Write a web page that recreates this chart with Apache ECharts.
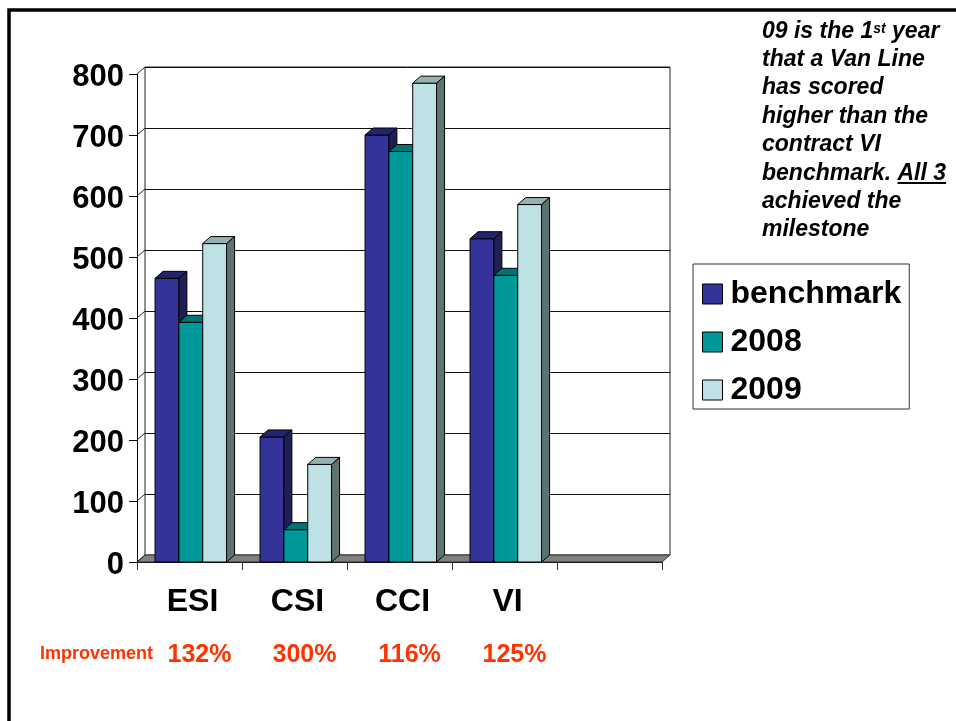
<!DOCTYPE html>
<html>
<head>
<meta charset="utf-8">
<script src="https://cdn.jsdelivr.net/npm/echarts@6/dist/echarts.min.js"></script>
<style>
  html, body { margin: 0; padding: 0; background: #fff; }
  #main { width: 956px; height: 721px; }
</style>
</head>
<body>
<div id="main"></div>
<script>
// chart data
var categories = ['ESI', 'CSI', 'CCI', 'VI', ''];
var seriesNames = ['benchmark', '2008', '2009'];
var benchmark = [465, 205, 700, 530];
var y2008 = [393, 53, 673, 470];
var y2009 = [522, 160, 785, 586];
var tickValues = [0, 100, 200, 300, 400, 500, 600, 700, 800];
var improvement = ['132%', '300%', '116%', '125%'];

var FONT = 'Liberation Sans, Arial, sans-serif';
var DX = 8, DY = 7; // depth of the fake 3d
var colors = [
  { front: '#333399', top: '#232370', side: '#1f1f55' },
  { front: '#009999', top: '#007373', side: '#006666' },
  { front: '#bde1e4', top: '#98b0b2', side: '#5e7272' }
];

var myChart = echarts.init(document.getElementById('main'));

function barRenderer(idx) {
  return function (params, api) {
    var cat = api.value(0);
    var val = api.value(1);
    var p0 = api.coord([cat, 0]);
    var p1 = api.coord([cat, val]);
    var band = api.size([1, 0])[0];
    var w = band * 0.227;
    var x0 = p0[0] - band / 2 + band * (0.172 + idx * 0.227);
    var yb = p0[1], yt = p1[1];
    var c = colors[idx];
    var st = { stroke: '#000', lineWidth: 1 };
    return {
      type: 'group',
      children: [
        { type: 'rect', shape: { x: x0, y: yt, width: w, height: yb - yt },
          style: Object.assign({ fill: c.front }, st) },
        { type: 'polygon', shape: { points: [[x0, yt], [x0 + w, yt], [x0 + w + DX, yt - DY], [x0 + DX, yt - DY]] },
          style: Object.assign({ fill: c.top }, st) },
        { type: 'polygon', shape: { points: [[x0 + w, yt], [x0 + w + DX, yt - DY], [x0 + w + DX, yb - DY], [x0 + w, yb]] },
          style: Object.assign({ fill: c.side }, st) }
      ]
    };
  };
}

function toData(arr) {
  return arr.map(function (v, i) { return [i, v]; });
}

var valueSets = [benchmark, y2008, y2009];
var barSeries = valueSets.map(function (arr, i) {
  return {
    name: seriesNames[i],
    type: 'custom',
    xAxisIndex: 0,
    yAxisIndex: 0,
    itemStyle: { color: colors[i].front },
    renderItem: barRenderer(i),
    data: toData(arr),
    z: 5
  };
});

var NOTE_SIZE = 23;
var noteFont = { fontSize: NOTE_SIZE, fontWeight: 'bold', fontStyle: 'italic', fontFamily: FONT, lineHeight: 28.4 };

var option = {
  animation: false,
  backgroundColor: '#fff',
  grid: [
    { left: 137, top: 74, right: 294, bottom: 159 },
    { left: 145, top: 67, right: 286, bottom: 166, show: true,
      backgroundColor: '#fff', borderColor: '#222', borderWidth: 1 }
  ],
  xAxis: [
    { type: 'category', gridIndex: 0, data: categories, boundaryGap: true,
      axisLine: { show: true, lineStyle: { color: '#000', width: 1 } },
      axisTick: { show: true, length: 8, lineStyle: { color: '#333' } },
      axisLabel: { margin: 24, fontSize: 32, fontWeight: 'bold', color: '#000',
        fontFamily: FONT, padding: [0, 0, 0, 6] } },
    { type: 'category', gridIndex: 1, data: categories, show: false }
  ],
  yAxis: [
    { type: 'value', gridIndex: 0, min: 0, max: 800, interval: 100,
      axisLine: { show: true, lineStyle: { color: '#000', width: 1 } },
      axisTick: { show: true, length: 8, lineStyle: { color: '#000' } },
      splitLine: { show: false },
      axisLabel: { margin: 13, color: '#000', formatter: '{v|{value}}',
        rich: { v: { fontSize: 31, fontWeight: 'bold', fontFamily: FONT, padding: [7, 0, 0, 0] } } } },
    { type: 'value', gridIndex: 1, min: 0, max: 800, interval: 100,
      axisLine: { show: false }, axisTick: { show: false }, axisLabel: { show: false },
      splitLine: { show: true, lineStyle: { color: '#111', width: 1 } } }
  ],
  legend: {
    orient: 'vertical',
    left: 693,
    top: 264,
    data: seriesNames,
    padding: [14, 8, 3, 9],
    itemWidth: 20,
    itemHeight: 20,
    itemGap: 16,
    icon: 'rect',
    itemStyle: { borderColor: '#000', borderWidth: 1 },
    borderColor: '#333',
    borderWidth: 1,
    selectedMode: false,
    textStyle: { fontSize: 32, fontWeight: 'bold', color: '#000', fontFamily: FONT, padding: [0, 0, 0, 3] }
  },
  series: [
    {
      // floor
      type: 'custom',
      xAxisIndex: 0, yAxisIndex: 0,
      data: [[0, 0]],
      silent: true,
      z: 3,
      renderItem: function (params, api) {
        var cs = params.coordSys;
        var yb = cs.y + cs.height;
        return { type: 'polygon',
          shape: { points: [[cs.x, yb], [cs.x + cs.width, yb], [cs.x + cs.width + DX, yb - DY], [cs.x + DX, yb - DY]] },
          style: { fill: '#808080', stroke: '#333', lineWidth: 1 } };
      }
    },
    {
      // left wall diagonals at the ticks
      type: 'custom',
      xAxisIndex: 0, yAxisIndex: 0,
      data: tickValues.map(function (v) { return [0, v]; }),
      silent: true,
      z: 3,
      renderItem: function (params, api) {
        var x = params.coordSys.x;
        var y = api.coord([0, api.value(1)])[1];
        return { type: 'line', shape: { x1: x, y1: y, x2: x + DX, y2: y - DY },
          style: { stroke: '#222', lineWidth: 1 } };
      }
    }
  ].concat(barSeries),
  graphic: [
    { type: 'rect', silent: true, shape: { x: 9, y: 10, width: 1000, height: 800 },
      style: { fill: 'none', stroke: '#000', lineWidth: 3.5 } },
    { type: 'text', left: 762, top: 17,
      style: {
        text: '{a|09 is the 1}{s|st}{a| year}\n{a|that a Van Line}\n{a|has scored}\n{a|higher than the}\n' +
          '{a|contract VI}\n{a|benchmark. }{u|All 3}\n{a|achieved the}\n{a|milestone}',
        fill: '#000',
        rich: {
          a: noteFont,
          u: noteFont,
          s: { fontSize: 14, fontWeight: 'bold', fontStyle: 'italic', fontFamily: FONT, lineHeight: 14,
            verticalAlign: 'top', padding: [5, 0, 0, 0] }
        }
      } },
    { type: 'text', left: 40, top: 645,
      style: { text: 'Improvement', fontSize: 18, fontWeight: 'bold', fontFamily: FONT, fill: '#ff3300' } }
  ]
};

myChart.setOption(option);

// underline under "All 3": measure the text with the same font
var ctx = document.createElement('canvas').getContext('2d');
ctx.font = 'italic bold ' + NOTE_SIZE + 'px ' + FONT;
var ulStart = 762 + ctx.measureText('benchmark. ').width;
var ulEnd = ulStart + ctx.measureText('All 3').width;

// improvement labels under each category, placed through the category axis
var extra = improvement.map(function (t, i) {
  var x = myChart.convertToPixel({ xAxisIndex: 0 }, i);
  return { type: 'text', x: x + 10, y: 655,
    style: { text: t, fontSize: 25, fontWeight: 'bold', fontFamily: FONT, fill: '#ff3300',
      align: 'center', verticalAlign: 'middle' } };
});
extra.push({ type: 'line', shape: { x1: ulStart, y1: 183, x2: ulEnd, y2: 183 },
  style: { stroke: '#000', lineWidth: 2 } });
myChart.setOption({ graphic: option.graphic.concat(extra) });
</script>
</body>
</html>
